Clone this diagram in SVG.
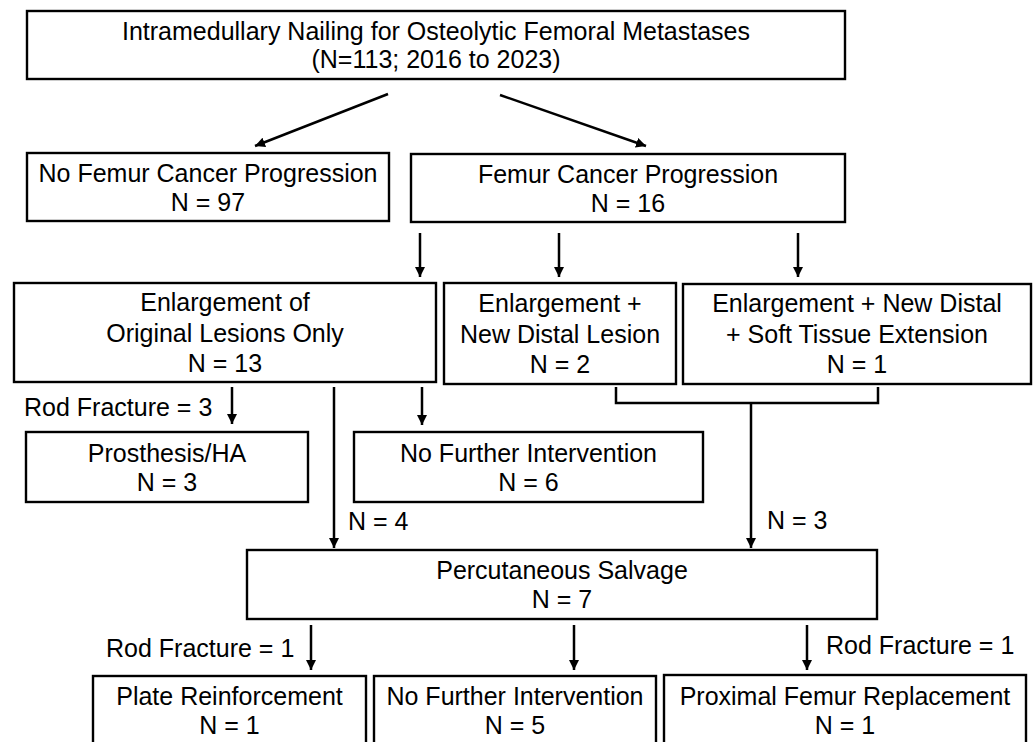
<svg xmlns="http://www.w3.org/2000/svg" width="1033" height="742" viewBox="0 0 1033 742">
<defs>
<marker id="ah" viewBox="0 0 10 10" refX="10" refY="5" markerWidth="4" markerHeight="4" orient="auto" markerUnits="strokeWidth">
<path d="M0,0 L10,5 L0,10 z" fill="#000"/>
</marker>
<style>
.box{fill:#fff;stroke:#000;stroke-width:2.4}
.t{font-family:"Liberation Sans",Arial,sans-serif;font-size:25px;fill:#000;text-anchor:middle}
.l{font-family:"Liberation Sans",Arial,sans-serif;font-size:25px;fill:#000}
.c{fill:none;stroke:#000;stroke-width:2.5}
.a{marker-end:url(#ah)}
</style>
</defs>
<rect width="1033" height="742" fill="#fff"/>
<g id="connectors">
<line class="c a" x1="388" y1="94" x2="255" y2="146"/>
<line class="c a" x1="500" y1="95" x2="646" y2="146"/>
<line class="c a" x1="420" y1="233" x2="420" y2="277"/>
<line class="c a" x1="559" y1="233" x2="559" y2="277"/>
<line class="c a" x1="798" y1="233" x2="798" y2="277"/>
<line class="c a" x1="232" y1="387" x2="232" y2="424"/>
<line class="c a" x1="422" y1="387" x2="422" y2="425"/>
<line class="c a" x1="334" y1="387" x2="334" y2="548"/>
<path class="c" d="M616,387 V403 H878 V387"/>
<line class="c a" x1="751" y1="403" x2="751" y2="548"/>
<line class="c a" x1="311" y1="625" x2="311" y2="670"/>
<line class="c a" x1="574" y1="625" x2="574" y2="670"/>
<line class="c a" x1="807" y1="625" x2="807" y2="670"/>
<text class="l" x="24" y="416">Rod Fracture = 3</text>
<text class="l" x="348" y="530">N = 4</text>
<text class="l" x="767" y="529">N = 3</text>
<text class="l" x="106" y="657">Rod Fracture = 1</text>
<text class="l" x="826" y="654">Rod Fracture = 1</text>
</g>
<g id="n-top">
<rect class="box" x="27" y="11" width="818" height="68"/>
<text class="t" x="436" y="40">Intramedullary Nailing for Osteolytic Femoral Metastases</text>
<text class="t" x="436" y="68">(N=113; 2016 to 2023)</text>
</g>
<g id="n-noprog">
<rect class="box" x="27" y="153" width="362" height="68"/>
<text class="t" x="208" y="182">No Femur Cancer Progression</text>
<text class="t" x="208" y="211">N = 97</text>
</g>
<g id="n-prog">
<rect class="box" x="411" y="154" width="434" height="68"/>
<text class="t" x="628" y="183">Femur Cancer Progression</text>
<text class="t" x="628" y="212">N = 16</text>
</g>
<g id="n-enl1">
<rect class="box" x="14" y="283" width="422" height="99"/>
<text class="t" x="225" y="311">Enlargement of</text>
<text class="t" x="225" y="342">Original Lesions Only</text>
<text class="t" x="225" y="372">N = 13</text>
</g>
<g id="n-enl2">
<rect class="box" x="444" y="283" width="232" height="101"/>
<text class="t" x="560" y="312">Enlargement +</text>
<text class="t" x="560" y="343">New Distal Lesion</text>
<text class="t" x="560" y="373">N = 2</text>
</g>
<g id="n-enl3">
<rect class="box" x="683" y="284" width="348" height="100"/>
<text class="t" x="857" y="312">Enlargement + New Distal</text>
<text class="t" x="857" y="343">+ Soft Tissue Extension</text>
<text class="t" x="857" y="373">N = 1</text>
</g>
<g id="n-prosth">
<rect class="box" x="26" y="432" width="282" height="70"/>
<text class="t" x="167" y="462">Prosthesis/HA</text>
<text class="t" x="167" y="491">N = 3</text>
</g>
<g id="n-nfi6">
<rect class="box" x="354" y="432" width="349" height="70"/>
<text class="t" x="528.5" y="462">No Further Intervention</text>
<text class="t" x="528.5" y="491">N = 6</text>
</g>
<g id="n-perc">
<rect class="box" x="247" y="550" width="630" height="69"/>
<text class="t" x="562" y="579">Percutaneous Salvage</text>
<text class="t" x="562" y="608">N = 7</text>
</g>
<g id="n-plate">
<rect class="box" x="93" y="676" width="273" height="90"/>
<text class="t" x="229.5" y="705">Plate Reinforcement</text>
<text class="t" x="229.5" y="734">N = 1</text>
</g>
<g id="n-nfi5">
<rect class="box" x="374" y="676" width="282" height="90"/>
<text class="t" x="515" y="705">No Further Intervention</text>
<text class="t" x="515" y="734">N = 5</text>
</g>
<g id="n-prox">
<rect class="box" x="664" y="675" width="362" height="90"/>
<text class="t" x="845" y="705">Proximal Femur Replacement</text>
<text class="t" x="845" y="734">N = 1</text>
</g>
</svg>
